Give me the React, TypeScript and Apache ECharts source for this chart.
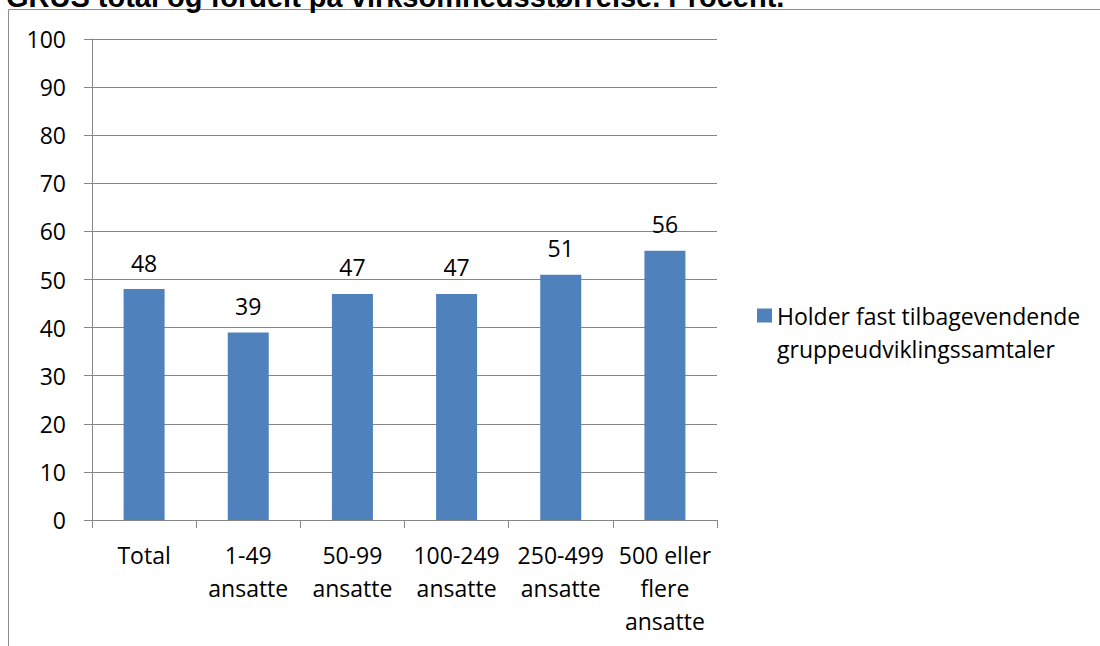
import React, { useEffect, useRef } from "react";
import * as echarts from "echarts";

const categories = [
  "Total",
  "1-49\nansatte",
  "50-99\nansatte",
  "100-249\nansatte",
  "250-499\nansatte",
  "500 eller\nflere\nansatte",
];
const values = [48, 39, 47, 47, 51, 56];
const seriesName = "Holder fast tilbagevendende\ngruppeudviklingssamtaler";
const titleText = "GRUS total og fordelt på virksomhedsstørrelse. Procent.";

const FONT = "'Open Sans', 'Noto Sans', sans-serif";
const GRID_COLOR = "#868686";
const BAR_COLOR = "#4F81BD";
const FS = 23;

export default function App() {
  const ref = useRef<HTMLDivElement>(null);

  useEffect(() => {
    if (!ref.current) return;
    const chart = echarts.init(ref.current, null, { renderer: "svg" });
    chart.setOption({
      animation: false,
      backgroundColor: "#ffffff",
      textStyle: { fontFamily: FONT },
      graphic: [
        {
          type: "rect",
          shape: { x: 8.5, y: 9.5, width: 1200, height: 700 },
          style: { fill: "none", stroke: "#8c8c8c", lineWidth: 1 },
          silent: true,
        },
        {
          type: "text",
          x: 6,
          y: 11,
          style: {
            text: titleText,
            font: "bold 29px 'Liberation Sans', Arial, sans-serif",
            fill: "#000",
            verticalAlign: "bottom",
          },
          silent: true,
        },
      ],
      grid: { left: 92, right: 383, top: 39, bottom: 126, containLabel: false },
      legend: {
        show: true,
        left: 757,
        top: 266,
        padding: 0,
        itemWidth: 15,
        itemHeight: 14,
        icon: "rect",
        data: [seriesName],
        // leading blank line keeps the first text line level with the swatch
        formatter: (name: string) => "\n" + name,
        textStyle: {
          fontFamily: FONT,
          fontSize: FS,
          color: "#000",
          lineHeight: 33,
        },
      },
      xAxis: {
        type: "category",
        data: categories,
        axisLine: { show: true, lineStyle: { color: GRID_COLOR, width: 1 } },
        axisTick: { show: true, length: 8, alignWithLabel: false, lineStyle: { color: GRID_COLOR } },
        axisLabel: {
          interval: 0,
          color: "#000",
          fontFamily: FONT,
          fontSize: FS,
          lineHeight: 33,
          margin: 18,
        },
      },
      yAxis: {
        type: "value",
        min: 0,
        max: 100,
        interval: 10,
        axisLine: { show: true, lineStyle: { color: GRID_COLOR, width: 1 } },
        axisTick: { show: true, inside: false, length: 8, lineStyle: { color: GRID_COLOR } },
        splitLine: { show: true, lineStyle: { color: GRID_COLOR, width: 1 } },
        axisLabel: {
          color: "#000",
          fontFamily: FONT,
          fontSize: FS,
          margin: 26,
        },
      },
      series: [
        {
          name: seriesName,
          type: "bar",
          data: values,
          barWidth: 41,
          itemStyle: { color: BAR_COLOR },
          label: {
            show: true,
            position: "top",
            distance: 15,
            color: "#000",
            fontFamily: FONT,
            fontSize: FS,
          },
        },
      ],
    });
    return () => chart.dispose();
  }, []);

  return (
    <div
      ref={ref}
      style={{ position: "fixed", left: 0, top: 0, width: 1100, height: 646 }}
    />
  );
}
